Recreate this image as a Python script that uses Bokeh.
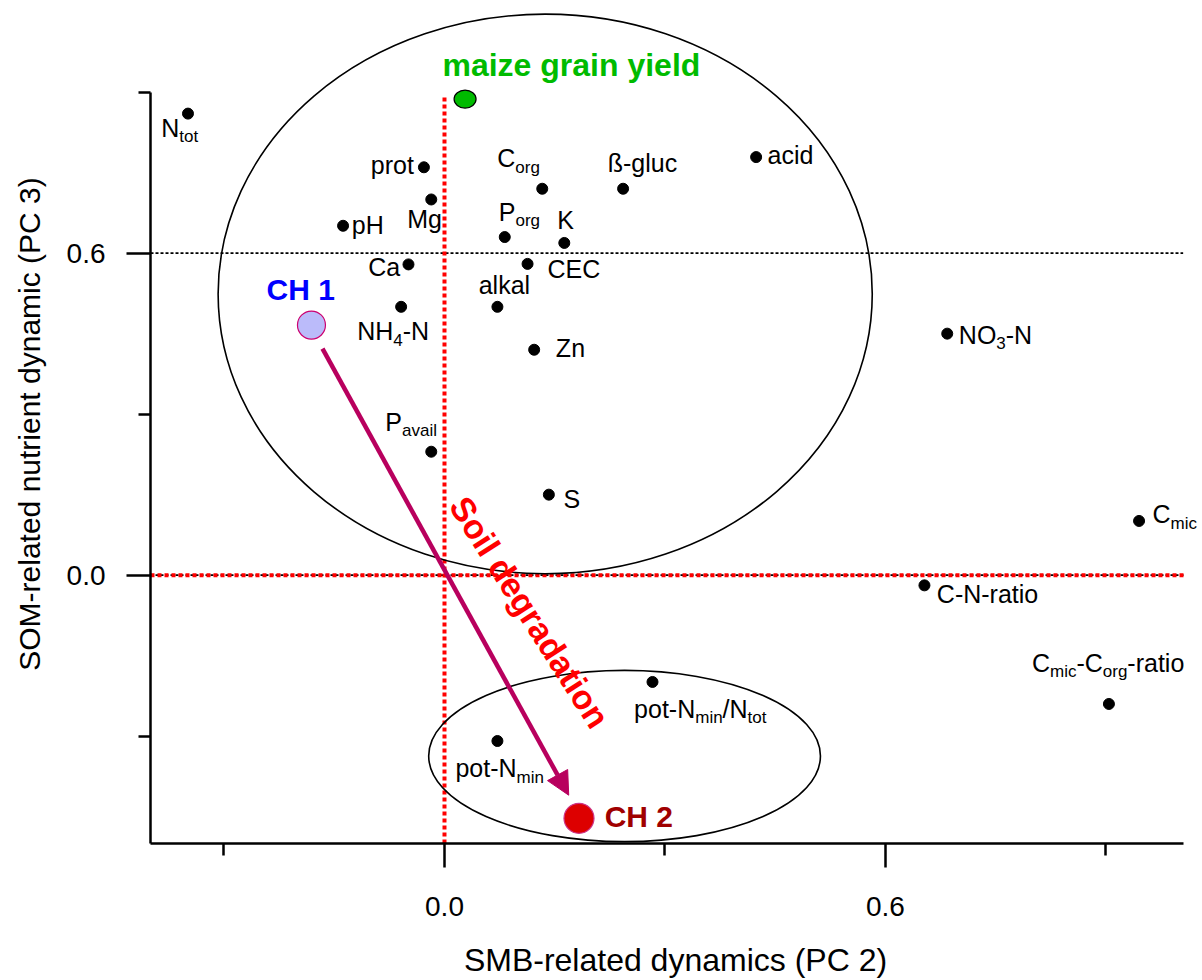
import re
from bokeh.plotting import figure
from bokeh.models import (Range1d, FixedTicker, PrintfTickFormatter,
                          ColumnDataSource, Arrow, NormalHead)
from bokeh.core.properties import value
from bokeh.embed import file_html
from bokeh.resources import INLINE

# ---------------- data ----------------
var_labels = ["N_{tot}", "prot", "Mg", "pH", "Ca", "NH_{4}-N", "C_{org}", "ß-gluc",
              "acid", "P_{org}", "K", "CEC", "alkal", "Zn", "P_{avail}", "S",
              "NO_{3}-N", "C_{mic}", "C-N-ratio", "C_{mic}-C_{org}-ratio",
              "pot-N_{min}/N_{tot}", "pot-N_{min}"]
pc2 = [-0.349, -0.028, -0.018, -0.138, -0.049, -0.059, 0.133, 0.243,
       0.424, 0.082, 0.163, 0.113, 0.072, 0.122, -0.018, 0.142,
       0.684, 0.945, 0.653, 0.904, 0.283, 0.072]
pc3 = [0.860, 0.760, 0.700, 0.651, 0.579, 0.500, 0.720, 0.720,
       0.779, 0.630, 0.619, 0.580, 0.500, 0.420, 0.230, 0.150,
       0.450, 0.101, -0.019, -0.240, -0.199, -0.309]

site_labels = ["CH 1", "CH 2"]
site_pc2 = [-0.181, 0.183]
site_pc3 = [0.466, -0.453]

yield_label = ["maize grain yield"]
yield_pc2 = [0.028]
yield_pc3 = [0.887]

cluster_x = [0.137, 0.245]
cluster_y = [0.524, -0.337]
cluster_w = [0.890, 0.533]
cluster_h = [1.043, 0.319]

arrow_from = (-0.166, 0.422)
arrow_to = (0.169, -0.410)
arrow_label = "Soil degradation"
arrow_label_pos = (0.116, -0.069)

x_ticks = [0.0, 0.6]
x_minor = [-0.3, 0.3, 0.9]
y_ticks = [0.0, 0.6]
y_minor = [-0.3, 0.3, 0.9]
x_title = "SMB-related dynamics (PC 2)"
y_title = "SOM-related nutrient dynamic (PC 3)"

# ---------------- label placement (screen px) ----------------
label_align = ["l", "r", "r", "l", "r", "r", "r", "l", "l", "l", "l", "l", "l", "l",
               "r", "l", "l", "l", "l", "l", "l", "l"]
label_dx = [-26.7, -10, 10.7, 8.7, -8.3, 28, -2.4, -15.4, 11.4, -6, -7, 20, -18.7,
            21.7, 5.7, 14.6, 11.6, 13.4, 12.4, -77, -18.4, -42]
label_dy = [22.7, 6, 27.4, 7.6, 11, 32.6, -22, -17, 6.6, -17, -14.4, 13.6, -14, 7,
            -21.7, 12.4, 9.4, 1.7, 16.4, -33, 35, 35.7]

FONT = "Liberation Sans"
MAIN_FS = 25
SUB_FS = 17
SUB_SHIFT = 6
BASE_FIX = -0.33   # baseline correction, in em


def fix(fs):
    return BASE_FIX * fs


W = {' ': 278, 'a': 556, 'b': 556, 'c': 500, 'd': 556, 'e': 556, 'f': 278, 'g': 556,
     'h': 556, 'i': 222, 'j': 222, 'k': 500, 'l': 222, 'm': 833, 'n': 556, 'o': 556,
     'p': 556, 'q': 556, 'r': 333, 's': 500, 't': 278, 'u': 556, 'v': 500, 'w': 722,
     'x': 500, 'y': 500, 'z': 500, 'A': 667, 'B': 667, 'C': 722, 'D': 722, 'E': 667,
     'G': 778, 'H': 722, 'K': 667, 'M': 833, 'N': 722, 'O': 778, 'P': 667, 'S': 667,
     'Z': 611, '-': 333, '/': 278, 'ß': 611}


def tw(s, size):
    return sum(W.get(c, 556) for c in s) * size / 1000.0


def segments(lbl):
    out = []
    for m in re.finditer(r"_\{([^}]*)\}|([^_]+)", lbl):
        if m.group(1) is not None:
            out.append((m.group(1), True))
        else:
            out.append((m.group(2), False))
    return out


main = dict(x=[], y=[], text=[], xo=[], yo=[])
sub = dict(x=[], y=[], text=[], xo=[], yo=[])
for lbl, px, py, al, dx, dy in zip(var_labels, pc2, pc3, label_align, label_dx, label_dy):
    segs = segments(lbl)
    total = sum(tw(t, SUB_FS if s else MAIN_FS) for t, s in segs)
    left = dx - total if al == "r" else dx
    cur = left
    for t, s in segs:
        fs = SUB_FS if s else MAIN_FS
        d = sub if s else main
        d["x"].append(px)
        d["y"].append(py)
        d["text"].append(t)
        d["xo"].append(cur)
        d["yo"].append(dy + (SUB_SHIFT if s else 0) + fix(fs))
        cur += tw(t, fs)

# ---------------- figure ----------------
p = figure(width=1202, height=980, output_backend="svg", toolbar_location=None,
           x_range=Range1d(-0.4, 1.0286), y_range=Range1d(-0.5, 1.0633),
           min_border_left=150, min_border_right=2, min_border_top=4,
           min_border_bottom=137)
p.grid.visible = False
p.outline_line_color = None
p.background_fill_color = "white"
p.border_fill_color = "white"

for ax, tks, mnr, ttl, tfs in ((p.xaxis[0], x_ticks, x_minor, x_title, "32px"),
                               (p.yaxis[0], y_ticks, y_minor, y_title, "30px")):
    ax.ticker = FixedTicker(ticks=tks, minor_ticks=mnr)
    ax.formatter = PrintfTickFormatter(format="%.1f")
    ax.axis_label = ttl
    ax.axis_line_width = 2.5
    ax.axis_line_color = "black"
    ax.major_tick_line_width = 2.5
    ax.minor_tick_line_width = 2.5
    ax.major_tick_line_color = "black"
    ax.minor_tick_line_color = "black"
    ax.major_tick_out = 24
    ax.major_tick_in = 0
    ax.minor_tick_out = 12
    ax.minor_tick_in = 0
    ax.major_label_text_font = FONT
    ax.major_label_text_font_size = "28px"
    ax.major_label_text_color = "black"
    ax.axis_label_text_font = FONT
    ax.axis_label_text_font_size = tfs
    ax.axis_label_text_font_style = "normal"
    ax.axis_label_text_color = "black"

p.xaxis.bounds = (-0.4, 1.005)
p.yaxis.bounds = (-0.5, 0.9)
p.xaxis.major_label_standoff = 29
p.xaxis.axis_label_standoff = 23
p.yaxis.major_label_standoff = 21
p.yaxis.axis_label_standoff = 18

# reference lines
p.line(x=[-0.4, 1.005], y=[0.6, 0.6], line_color="black", line_width=1.8, line_dash="3 2")
p.line(x=[-0.4, 1.008], y=[0.0, 0.0], line_color="black", line_width=1.8, line_dash="3 2")
p.line(x=[-0.4, 1.008], y=[0.0, 0.0], line_color="#FF0000", line_width=4, line_dash="4 3")
p.line(x=[0.0, 0.0], y=[-0.5, 0.89], line_color="#FF0000", line_width=4, line_dash="4 3")

# cluster ellipses
p.ellipse(x=cluster_x, y=cluster_y, width=cluster_w, height=cluster_h,
          fill_color=None, line_color="black", line_width=1.6)

# degradation arrow
acol = "#B8005E"
p.add_layout(Arrow(end=NormalHead(size=23, fill_color=acol, line_color=acol),
                   x_start=arrow_from[0], y_start=arrow_from[1],
                   x_end=arrow_to[0], y_end=arrow_to[1],
                   line_color=acol, line_width=4.5))
p.text(x=[arrow_label_pos[0]], y=[arrow_label_pos[1]], text=[arrow_label],
       angle=-57.5, angle_units="deg", text_font=value(FONT), text_font_size="34px",
       text_font_style="bold", text_color="#FF0000", text_align="center",
       text_baseline="middle")

# variable points
p.scatter(x=pc2, y=pc3, size=11, color="black")

# variable labels
p.text(x="x", y="y", text="text", x_offset="xo", y_offset="yo",
       source=ColumnDataSource(main), text_font=value(FONT),
       text_font_size=f"{MAIN_FS}px", text_align="left",
       text_baseline="alphabetic", text_color="black")
p.text(x="x", y="y", text="text", x_offset="xo", y_offset="yo",
       source=ColumnDataSource(sub), text_font=value(FONT),
       text_font_size=f"{SUB_FS}px", text_align="left",
       text_baseline="alphabetic", text_color="black")

# maize grain yield
p.ellipse(x=yield_pc2, y=yield_pc3, width=22, height=18, width_units="screen",
          height_units="screen", fill_color="#00BB00", line_color="black", line_width=1.2)
p.text(x=yield_pc2, y=yield_pc3, text=yield_label, x_offset=-22.6, y_offset=-24 + fix(32),
       text_font=value(FONT), text_font_size="32px", text_font_style="bold",
       text_color="#00BB00", text_align="left", text_baseline="alphabetic")

# sites CH1 / CH2
p.scatter(x=site_pc2[:1], y=site_pc3[:1], size=28, fill_color="#BBBBFA",
          line_color="#CC0070", line_width=1.2)
p.scatter(x=site_pc2[1:], y=site_pc3[1:], size=30, fill_color="#DD0000",
          line_color="#CC3388", line_width=1.2)
p.text(x=site_pc2[:1], y=site_pc3[:1], text=site_labels[:1], x_offset=-45,
       y_offset=-25.7 + fix(30),
       text_font=value(FONT), text_font_size="30px", text_font_style="bold",
       text_color="#0000FF", text_align="left", text_baseline="alphabetic")
p.text(x=site_pc2[1:], y=site_pc3[1:], text=site_labels[1:], x_offset=25.7,
       y_offset=8.4 + fix(30),
       text_font=value(FONT), text_font_size="30px", text_font_style="bold",
       text_color="#A00000", text_align="left", text_baseline="alphabetic")

open("out.html", "w").write(file_html(p, INLINE))
